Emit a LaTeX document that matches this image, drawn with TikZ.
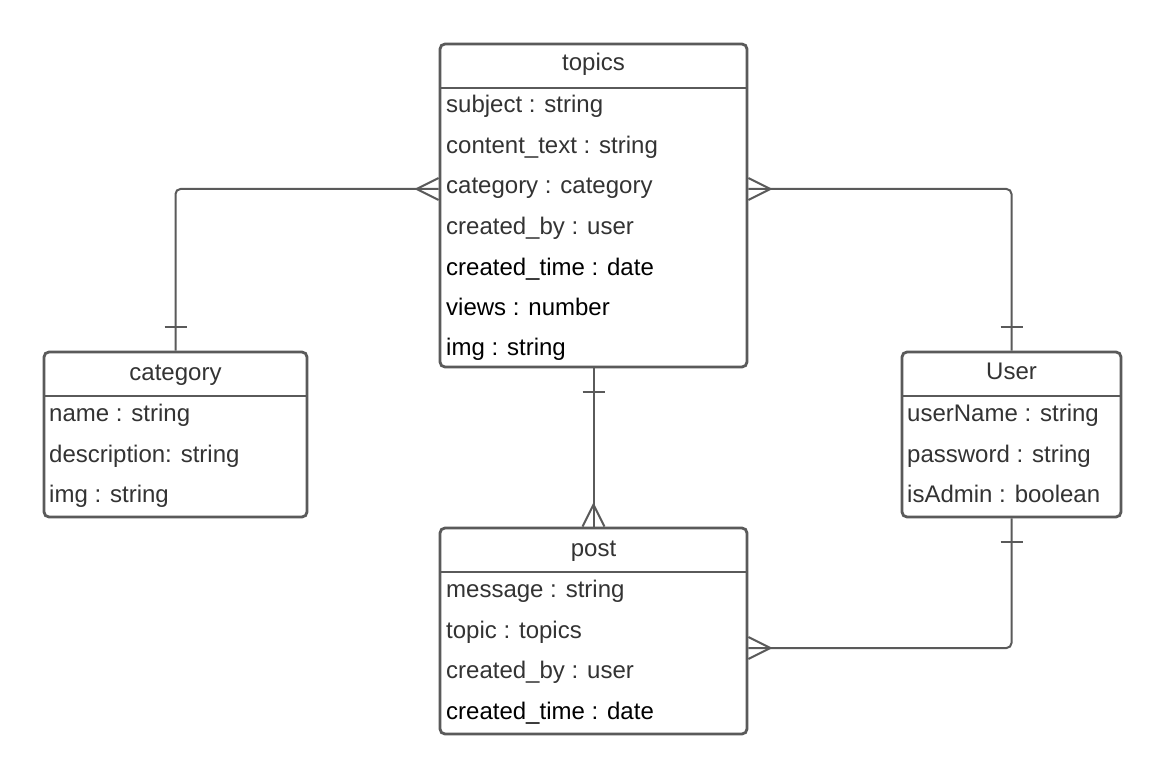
\documentclass[tikz,border=0pt]{standalone}
\usepackage{fontspec}
\setmainfont{Liberation Sans}
\usetikzlibrary{calc}
\definecolor{lc}{HTML}{5A5A5A}
\definecolor{tc}{HTML}{333333}
\begin{document}
\begin{tikzpicture}[x=1pt,y=-1pt,
  ent/.style={draw=lc, line width=2.8pt, rounded corners=5pt, inner sep=0pt, fill=white},
  hdr/.style={draw=lc, line width=2.8pt},
  ttl/.style={font=\fontsize{24}{28}\selectfont, text=tc, anchor=base, inner sep=0pt},
  attr/.style={font=\fontsize{24}{28}\selectfont, text=tc, anchor=base west, inner sep=0pt},
  attrb/.style={attr, text=black},
  conn/.style={draw=lc, line width=2pt, rounded corners=5pt},
  tick/.style={draw=lc, line width=2pt}
]
\useasboundingbox (0,0) rectangle (1165,778);
\fill[white] (0,0) rectangle (1165,778);

% entities
\node[ent, minimum width=307pt, minimum height=323pt] (topics) at (593.5,205.5) {};
\node[ent, minimum width=263pt, minimum height=165pt] (category) at (175.5,434.5) {};
\node[ent, minimum width=219pt, minimum height=165pt] (user) at (1011.5,434.5) {};
\node[ent, minimum width=307pt, minimum height=206pt] (post) at (593.5,631) {};

% header separators
\draw[hdr] (440,88) -- (747,88);
\draw[hdr] (44,396) -- (307,396);
\draw[hdr] (902,396) -- (1121,396);
\draw[hdr] (440,572) -- (747,572);

% titles
\node[ttl] (ttopics) at (593.5,71) {topics};
\node[ttl] (tcategory) at (175.5,380) {category};
\node[ttl] (tuser) at (1011.5,379) {User};
\node[ttl] (tpost) at (593.5,556) {post};

% topics attributes
\node[attr] (ta1) at (446,113) {subject : string};
\node[attr] (ta2) at (446,154) {content\_text : string};
\node[attr] (ta3) at (446,194) {category : category};
\node[attr] (ta4) at (446,235) {created\_by : user};
\node[attrb] (ta5) at (446,276) {created\_time : date};
\node[attrb] (ta6) at (446,316) {views : number};
\node[attrb] (ta7) at (446,355) {img : string};

% category attributes
\node[attr] (ca1) at (49,421) {name : string};
\node[attr] (ca2) at (49,462) {description: string};
\node[attr] (ca3) at (49,502) {img : string};

% user attributes
\node[attr] (ua1) at (907,421) {userName : string};
\node[attr] (ua2) at (907,462) {password : string};
\node[attr] (ua3) at (907,502) {isAdmin : boolean};

% post attributes
\node[attr] (pa1) at (446,597) {message : string};
\node[attr] (pa2) at (446,638) {topic : topics};
\node[attr] (pa3) at (446,678) {created\_by : user};
\node[attrb] (pa4) at (446,719) {created\_time : date};

% connector rows
\coordinate (ry) at (0,189);
\coordinate (py) at (0,648);

% topics -- category
\draw[conn] (topics.west |- ry) -| (category.north);
\draw[tick] ($(topics.west |- ry)+(0,-11)$) -- ($(topics.west |- ry)+(-22,0)$) -- ($(topics.west |- ry)+(0,11)$);
\draw[tick] ($(category.north)+(-11,-24)$) -- ($(category.north)+(11,-24)$);

% topics -- user
\draw[conn] (topics.east |- ry) -| (user.north);
\draw[tick] ($(topics.east |- ry)+(0,-11)$) -- ($(topics.east |- ry)+(22,0)$) -- ($(topics.east |- ry)+(0,11)$);
\draw[tick] ($(user.north)+(-11,-24)$) -- ($(user.north)+(11,-24)$);

% topics -- post
\draw[conn] (topics.south) -- (post.north);
\draw[tick] ($(topics.south)+(-11,24)$) -- ($(topics.south)+(11,24)$);
\draw[tick] ($(post.north)+(-11,0)$) -- ($(post.north)+(0,-22)$) -- ($(post.north)+(11,0)$);

% post -- user
\draw[conn] (post.east |- py) -| (user.south);
\draw[tick] ($(post.east |- py)+(0,-11)$) -- ($(post.east |- py)+(22,0)$) -- ($(post.east |- py)+(0,11)$);
\draw[tick] ($(user.south)+(-11,24)$) -- ($(user.south)+(11,24)$);
\end{tikzpicture}
\end{document}
